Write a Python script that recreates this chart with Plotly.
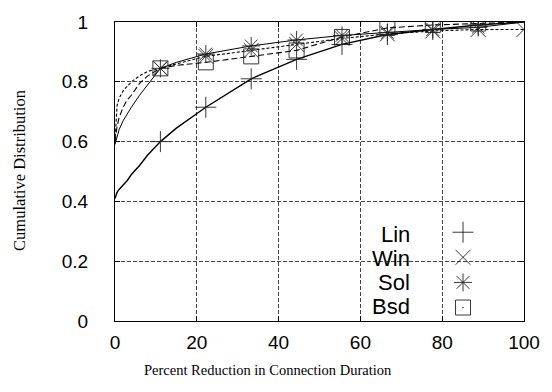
import plotly.graph_objects as go

# ---- data ----
x_curve = [0, 0.5, 1, 2, 3, 4, 6, 8, 11.1, 15, 22.2, 33.3, 44.4, 55.5, 66.6, 77.7, 88.8, 100]
lin_y = [0.41, 0.43, 0.44, 0.455, 0.47, 0.49, 0.52, 0.555, 0.60, 0.645, 0.715, 0.81, 0.875, 0.925, 0.958, 0.975, 0.99, 1.0]
win_y = [0.60, 0.72, 0.745, 0.77, 0.785, 0.80, 0.82, 0.835, 0.845, 0.86, 0.885, 0.905, 0.925, 0.945, 0.96, 0.97, 0.975, 0.975]
sol_y = [0.59, 0.62, 0.64, 0.67, 0.695, 0.715, 0.755, 0.79, 0.845, 0.865, 0.893, 0.92, 0.94, 0.955, 0.965, 0.975, 0.982, 1.0]
bsd_y = [0.60, 0.65, 0.68, 0.715, 0.74, 0.755, 0.795, 0.82, 0.845, 0.855, 0.865, 0.885, 0.905, 0.95, 0.98, 0.99, 0.995, 1.0]

series_names = ["Lin", "Win", "Sol", "Bsd"]
x_ticks = [0, 20, 40, 60, 80, 100]
y_ticks = [0, 0.2, 0.4, 0.6, 0.8, 1]

# x positions where point symbols are drawn (points on the top border are clipped in the original)
marker_x = {
    "Lin": [11.1, 22.2, 33.3, 44.4, 55.5, 66.6, 77.7, 88.8],
    "Win": [11.1, 22.2, 33.3, 44.4, 55.5, 66.6, 77.7, 88.8, 100],
    "Sol": [11.1, 22.2, 33.3, 44.4, 55.5, 66.6, 77.7, 88.8],
    "Bsd": [11.1, 22.2, 33.3, 44.4, 55.5, 66.6, 77.7, 88.8],
}

# ---- styles ----
curves = {"Lin": lin_y, "Win": win_y, "Sol": sol_y, "Bsd": bsd_y}
dash = {"Lin": "solid", "Win": "3px,2px", "Sol": "solid", "Bsd": "6px,3px"}
width = {"Lin": 1.4, "Win": 1.1, "Sol": 1.0, "Bsd": 1.1}
symbol = {"Lin": "cross-thin-open", "Win": "x-thin-open", "Sol": "asterisk-open", "Bsd": "square-open-dot"}

fig = go.Figure()

for n in series_names:
    fig.add_trace(go.Scatter(
        x=x_curve, y=curves[n], mode="lines", showlegend=False,
        line=dict(color="black", width=width[n], dash=dash[n]), hoverinfo="skip"))

for n in series_names:
    mx = marker_x[n]
    my = [curves[n][x_curve.index(v)] for v in mx]
    fig.add_trace(go.Scatter(
        x=mx, y=my, mode="markers", name=n,
        marker=dict(symbol=symbol[n], size=15, color="#222",
                    line=dict(color="#222", width=0.9))))

# legend labels (text left of symbols, right-aligned)
row_y = [0.29, 0.21, 0.129, 0.05]
for n, yy in zip(series_names, row_y):
    fig.add_annotation(x=0.727, y=yy, xref="paper", yref="paper", text=n, showarrow=False,
                       xanchor="right", yanchor="middle",
                       font=dict(family="Liberation Sans", size=22, color="black"))

# white legend background covering grid
fig.add_shape(type="rect", xref="paper", yref="paper", x0=0.602, x1=0.964, y0=0.01, y1=0.39,
              fillcolor="white", line=dict(width=0), layer="between")

fig.add_annotation(x=(270 - 115) / 413, y=-0.165, xref="paper", yref="paper",
                   text="Percent Reduction in Connection Duration", showarrow=False,
                   xanchor="center", yanchor="middle",
                   font=dict(family="Liberation Serif", size=14.5, color="black"))
fig.add_annotation(x=(18 - 115) / 413, y=(321 - 168) / 303, xref="paper", yref="paper",
                   text="Cumulative Distribution", showarrow=False, textangle=-90,
                   xanchor="center", yanchor="middle",
                   font=dict(family="Liberation Serif", size=16.5, color="black"))

axis_common = dict(showline=True, linecolor="black", linewidth=1, mirror="ticks",
                   ticks="inside", ticklen=5, tickcolor="black",
                   showgrid=True, gridcolor="#444", gridwidth=1, griddash="4px,2px",
                   zeroline=False,
                   tickfont=dict(family="Liberation Sans", size=19, color="black"))

fig.update_xaxes(range=[0, 100], tickvals=x_ticks, ticklabelstandoff=4, **axis_common)
fig.update_yaxes(range=[0, 1], tickvals=y_ticks, ticktext=[f"{v:g}" for v in y_ticks],
                 ticklabelstandoff=22, **axis_common)

fig.update_layout(
    width=552, height=392,
    margin=dict(l=115, r=24, t=18, b=71),
    paper_bgcolor="white", plot_bgcolor="white",
    showlegend=True,
    legend=dict(x=0.802, y=0.17, xanchor="left", yanchor="middle",
                bgcolor="rgba(0,0,0,0)", itemsizing="trace",
                font=dict(family="Liberation Sans", size=17, color="rgba(0,0,0,0)"),
                tracegroupgap=0),
)

fig.write_html("out.html")
